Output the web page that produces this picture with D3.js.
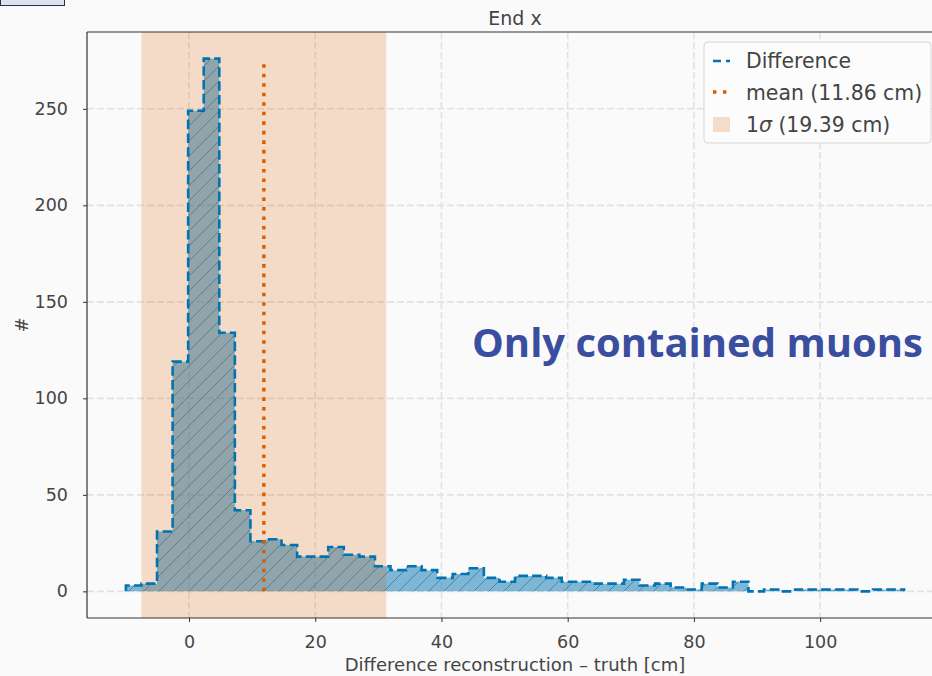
<!DOCTYPE html>
<html>
<head>
<meta charset="utf-8">
<script src="https://cdn.jsdelivr.net/npm/d3@7"></script>
<style>
  html, body { margin: 0; padding: 0; background: #fafafa; }
  svg { display: block; }
  text { font-family: "DejaVu Sans", sans-serif; }
</style>
</head>
<body>
<svg id="chart" width="932" height="676"></svg>
<script>
// ---- data ----
const binLo = -10;
const binHi = 113.3;
const counts = [3, 4, 31, 119, 249, 276, 134, 42, 26, 27,
                24, 18, 18, 23, 19, 18, 13, 11, 13, 11,
                7, 9, 12, 7, 5, 8, 8, 7, 5, 5,
                4, 4, 6, 3, 4, 2, 1, 4, 2, 5,
                0, 1, 0, 1, 1, 1, 1, 0, 1, 1];
const meanValue = 11.86;
const sigmaValue = 19.39;
const xTicks = [0, 20, 40, 60, 80, 100];
const yTicks = [0, 50, 100, 150, 200, 250];
const titleText = "End x";
const xLabel = "Difference reconstruction – truth [cm]";
const yLabel = "#";
const annotation = "Only contained muons";
const legendLabels = ["Difference", "mean (11.86 cm)", "(19.39 cm)"];

// ---- layout ----
const W = 932, H = 676;
const plot = { left: 87, right: 943, top: 32, bottom: 618 };
const blue = "#0173b2", orange = "#d55e00";

const svg = d3.select("#chart");
svg.append("rect").attr("width", W).attr("height", H).attr("fill", "#fafafa");

const nb = counts.length;
const edges = d3.range(nb + 1).map(i => binLo + (binHi - binLo) * i / nb);
const maxCount = d3.max(counts);
const xPad = 0.05 * (binHi - binLo);
const yPad = 0.05 * maxCount;

const x = d3.scaleLinear().domain([binLo - xPad, binHi + xPad]).range([plot.left, plot.right]);
const y = d3.scaleLinear().domain([-yPad, maxCount + yPad]).range([plot.bottom, plot.top]);

// defs
const defs = svg.append("defs");
defs.append("clipPath").attr("id", "clip").append("rect")
  .attr("x", plot.left).attr("y", plot.top)
  .attr("width", plot.right - plot.left).attr("height", plot.bottom - plot.top);
const hp = 15;
const pat = defs.append("pattern").attr("id", "hatch").attr("patternUnits", "userSpaceOnUse")
  .attr("width", hp).attr("height", hp);
pat.append("path")
  .attr("d", `M0,${hp} L${hp},0 M${-hp/2},${hp/2} L${hp/2},${-hp/2} M${hp/2},${hp*1.5} L${hp*1.5},${hp/2}`)
  .attr("stroke", "#1b5d8a").attr("stroke-opacity", 0.55).attr("stroke-width", 1);

const g = svg.append("g").attr("clip-path", "url(#clip)");

// grid
g.selectAll(".gy").data(yTicks).join("line")
  .attr("x1", plot.left).attr("x2", plot.right)
  .attr("y1", d => y(d)).attr("y2", d => y(d))
  .attr("stroke", "#e2e2e2").attr("stroke-width", 1.6).attr("stroke-dasharray", "7,3");
g.selectAll(".gx").data(xTicks).join("line")
  .attr("y1", plot.top).attr("y2", plot.bottom)
  .attr("x1", d => x(d)).attr("x2", d => x(d))
  .attr("stroke", "#e2e2e2").attr("stroke-width", 1.6).attr("stroke-dasharray", "7,3");

// histogram step path
const pts = [[edges[0], 0]];
counts.forEach((c, i) => { pts.push([edges[i], c]); pts.push([edges[i + 1], c]); });
pts.push([edges[nb], 0]);
const line = d3.line().x(d => x(d[0])).y(d => y(d[1]));

g.append("path").attr("d", line(pts) + "Z").attr("fill", blue).attr("fill-opacity", 0.5);
g.append("path").attr("d", line(pts) + "Z").attr("fill", "url(#hatch)");

// 1 sigma band
g.append("rect")
  .attr("x", x(meanValue - sigmaValue)).attr("width", x(meanValue + sigmaValue) - x(meanValue - sigmaValue))
  .attr("y", plot.top).attr("height", plot.bottom - plot.top)
  .attr("fill", orange).attr("fill-opacity", 0.2);

// outline
g.append("path").attr("d", line(pts)).attr("fill", "none")
  .attr("stroke", blue).attr("stroke-width", 2.6).attr("stroke-dasharray", "9.6,4.2");

// mean line
g.append("line")
  .attr("x1", x(meanValue)).attr("x2", x(meanValue))
  .attr("y1", y(0)).attr("y2", y(maxCount))
  .attr("stroke", orange).attr("stroke-width", 3.4).attr("stroke-dasharray", "3.6,5.92");

// axes
const axY = svg.append("g").attr("transform", `translate(${plot.left},0)`)
  .call(d3.axisLeft(y).tickValues(yTicks).tickSize(4).tickSizeOuter(0).tickPadding(15));
const axX = svg.append("g").attr("transform", `translate(0,${plot.bottom})`)
  .call(d3.axisBottom(x).tickValues(xTicks).tickSize(4).tickSizeOuter(0).tickPadding(14));
[axX, axY].forEach(a => {
  a.select(".domain").remove();
  a.selectAll(".tick line").attr("stroke", "#333").attr("stroke-width", 1);
  a.selectAll(".tick text").attr("fill", "#444").style("font-size", "17.5px")
    .style("font-family", "'DejaVu Sans', sans-serif");
});
// spines
svg.append("line").attr("x1", plot.left).attr("x2", plot.left).attr("y1", plot.top).attr("y2", plot.bottom)
  .attr("stroke", "#333").attr("stroke-width", 1.2);
svg.append("line").attr("x1", plot.left).attr("x2", plot.right).attr("y1", plot.bottom).attr("y2", plot.bottom)
  .attr("stroke", "#333").attr("stroke-width", 1.2);
svg.append("line").attr("x1", plot.left).attr("x2", plot.right).attr("y1", plot.top).attr("y2", plot.top)
  .attr("stroke", "#333").attr("stroke-width", 1.2);

// labels
svg.append("text").attr("x", (plot.left + plot.right) / 2).attr("y", 25)
  .attr("text-anchor", "middle").attr("fill", "#444").style("font-size", "19px").text(titleText);
svg.append("text").attr("x", (plot.left + plot.right) / 2).attr("y", 671)
  .attr("text-anchor", "middle").attr("fill", "#444").style("font-size", "18px").text(xLabel);
svg.append("text").attr("transform", `translate(28,${(plot.top + plot.bottom) / 2}) rotate(-90)`)
  .attr("text-anchor", "middle").attr("fill", "#444").style("font-size", "18px").text(yLabel);

// annotation
svg.append("text").attr("x", 472).attr("y", 357)
  .attr("fill", "#3a4ea0").style("font-family", "'Open Sans', sans-serif")
  .style("font-weight", "bold").style("font-size", "40px").text(annotation);

// legend
const lg = svg.append("g");
lg.append("rect").attr("x", 704).attr("y", 42).attr("width", 227).attr("height", 101).attr("rx", 4)
  .attr("fill", "#fcfcfc").attr("stroke", "#d6d6d6").attr("stroke-width", 1);
lg.append("line").attr("x1", 713).attr("x2", 730).attr("y1", 61).attr("y2", 61)
  .attr("stroke", blue).attr("stroke-width", 2.6).attr("stroke-dasharray", "8,5");
lg.append("line").attr("x1", 713).attr("x2", 730).attr("y1", 92).attr("y2", 92)
  .attr("stroke", orange).attr("stroke-width", 3.4).attr("stroke-dasharray", "3.4,6.6");
lg.append("rect").attr("x", 713).attr("y", 117).attr("width", 17).attr("height", 15)
  .attr("fill", orange).attr("fill-opacity", 0.2);
const ly = [68, 100, 132];
lg.append("text").attr("x", 746).attr("y", ly[0]).attr("fill", "#444").style("font-size", "20.4px").text(legendLabels[0]);
lg.append("text").attr("x", 746).attr("y", ly[1]).attr("fill", "#444").style("font-size", "20.4px").text(legendLabels[1]);
const t3 = lg.append("text").attr("x", 746).attr("y", ly[2]).attr("fill", "#444").style("font-size", "20.4px");
t3.append("tspan").text("1");
t3.append("tspan").style("font-style", "italic").text("σ");
t3.append("tspan").text(" " + legendLabels[2]);

// top-left UI box
svg.append("rect").attr("x", 0.5).attr("y", -1).attr("width", 64).attr("height", 6.5)
  .attr("fill", "#dde3ea").attr("stroke", "#1c3553").attr("stroke-width", 1);
</script>
</body>
</html>
